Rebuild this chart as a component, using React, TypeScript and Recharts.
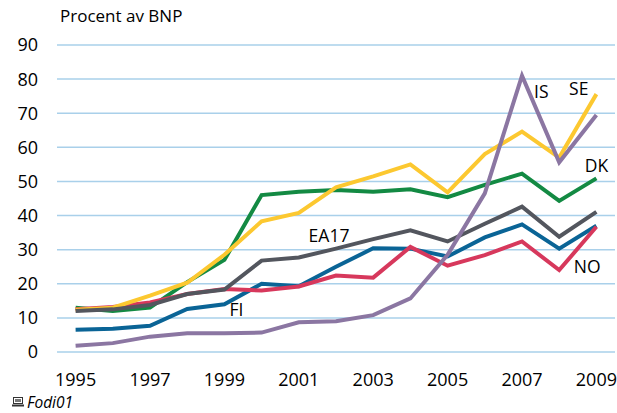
import React from "react";
import { LineChart, Line, XAxis, YAxis, CartesianGrid, LabelList } from "recharts";

const years = [1995, 1996, 1997, 1998, 1999, 2000, 2001, 2002, 2003, 2004, 2005, 2006, 2007, 2008, 2009];
const DK = [13, 12, 13, 20.5, 27, 46, 47, 47.5, 47, 47.7, 45.4, 49, 52.3, 44.3, 50.9];
const FI = [6.5, 6.8, 7.7, 12.6, 14, 20, 19.3, 25, 30.4, 30.3, 28, 33.6, 37.4, 30.3, 37];
const NO = [12.5, 13.2, 14.5, 17, 18.5, 18, 19.2, 22.4, 21.8, 30.8, 25.3, 28.4, 32.4, 24, 36.7];
const SE = [12.4, 13, 16.5, 20.3, 28.5, 38.3, 40.8, 48.3, 51.5, 55, 46.8, 58, 64.6, 57, 75.6];
const EA17 = [12, 12.5, 13.8, 17, 18.3, 26.8, 27.7, 30.3, 33.1, 35.7, 32.4, 37.6, 42.6, 33.8, 41.1];
const IS = [1.8, 2.6, 4.5, 5.5, 5.5, 5.7, 8.7, 9, 10.8, 15.7, 28.5, 46.5, 81, 55.6, 69.5];

const xTicks = [1995, 1997, 1999, 2001, 2003, 2005, 2007, 2009];
const yTicks = [0, 10, 20, 30, 40, 50, 60, 70, 80, 90];

const data = years.map((y, i) => ({
  year: y,
  DK: DK[i],
  FI: FI[i],
  NO: NO[i],
  SE: SE[i],
  EA17: EA17[i],
  IS: IS[i],
}));

const FONT = "'Open Sans', 'Noto Sans', sans-serif";

const makeLabel = (text: string, idx: number, dx: number, dy: number, anchor: string) =>
  (props: any) => {
    if (props.index !== idx) return null;
    return (
      <text
        x={props.x + dx}
        y={props.y + dy}
        textAnchor={anchor}
        fontSize={17.5}
        fontFamily={FONT}
        fill="#000"
      >
        {text}
      </text>
    );
  };

const series = [
  { key: "DK", color: "#138a43", label: makeLabel("DK", 14, 0, -6, "middle") },
  { key: "FI", color: "#0a6496", label: makeLabel("FI", 4, 12, 12, "middle") },
  { key: "NO", color: "#d7385c", label: makeLabel("NO", 13, 28, 3, "middle") },
  { key: "SE", color: "#fcc830", label: makeLabel("SE", 14, -8, 1, "end") },
  { key: "EA17", color: "#53565e", label: makeLabel("EA17", 7, -7, -7, "middle") },
  { key: "IS", color: "#8b76a2", label: makeLabel("IS", 12, 12, 22, "start") },
];

export default function App() {
  return (
    <div style={{ position: "absolute", left: 0, top: 0, width: 617, height: 413, background: "#fff", fontFamily: FONT }}>
      <div style={{ position: "absolute", left: 60, top: 4, fontSize: 17, color: "#000", fontFamily: FONT }}>
        Procent av BNP
      </div>
      <LineChart width={617} height={413} data={data} margin={{ top: 45, right: 2, left: 0, bottom: 0 }}>
        <CartesianGrid vertical={false} stroke="#a9d0ea" strokeWidth={1.5} />
        <XAxis
          dataKey="year"
          type="number"
          domain={[1994.5, 2009.5]}
          ticks={xTicks}
          axisLine={false}
          tickLine={false}
          height={61}
          tickSize={6}
          tickMargin={15}
          tick={{ fontSize: 18, fill: "#000", fontFamily: FONT }}
        />
        <YAxis
          domain={[0, 90]}
          ticks={yTicks}
          axisLine={false}
          tickLine={false}
          width={57}
          tickSize={6}
          tickMargin={13}
          tick={{ fontSize: 18, fill: "#000", fontFamily: FONT }}
        />
        {series.map((s) => (
          <Line
            key={s.key}
            dataKey={s.key}
            stroke={s.color}
            strokeWidth={4}
            dot={false}
            isAnimationActive={false}
            strokeLinejoin="miter"
          >
            <LabelList dataKey={s.key} content={s.label} />
          </Line>
        ))}
      </LineChart>
      <svg style={{ position: "absolute", left: 12, top: 397 }} width={12} height={10}>
        <rect x={1.5} y={0.5} width={9} height={6} fill="none" stroke="#333" strokeWidth={1} />
        <rect x={3} y={2} width={6} height={3} fill="#777" />
        <rect x={0} y={7.5} width={12} height={2} fill="#333" />
      </svg>
      <div style={{ position: "absolute", left: 27, top: 391, fontSize: 15.5, fontStyle: "italic", color: "#000", fontFamily: FONT }}>
        Fodi01
      </div>
    </div>
  );
}
